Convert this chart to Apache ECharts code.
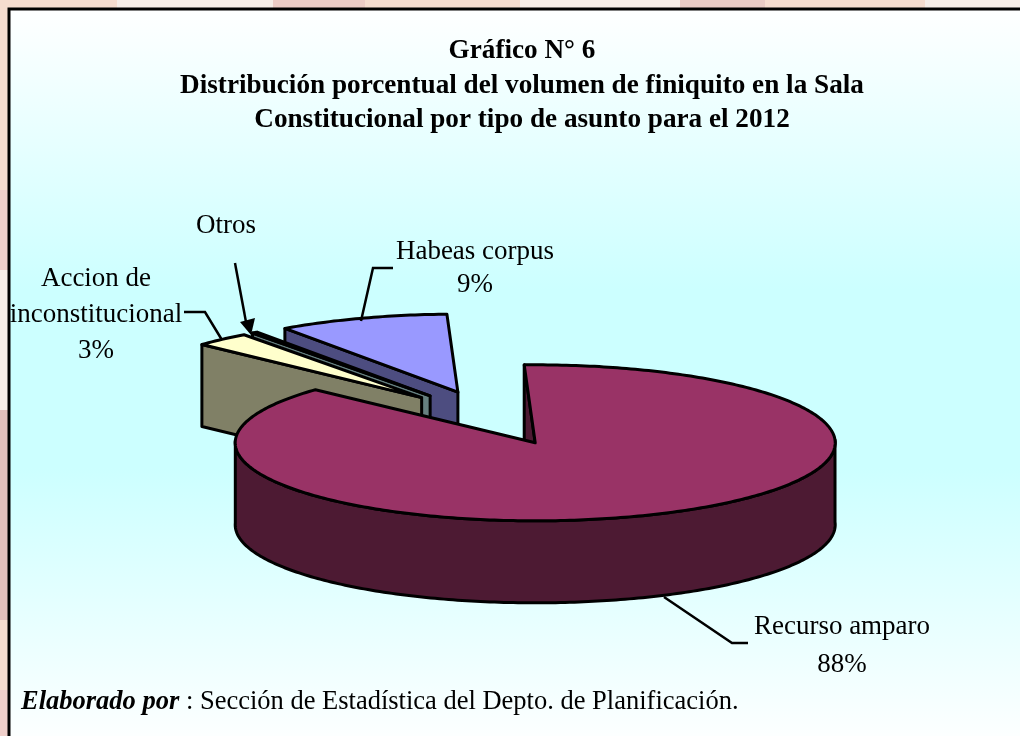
<!DOCTYPE html>
<html>
<head>
<meta charset="utf-8">
<title>Gráfico N° 6</title>
<script src="https://cdn.jsdelivr.net/npm/echarts@6/dist/echarts.min.js"></script>
<style>
  html, body { margin: 0; padding: 0; background: #fff; }
  #chart { width: 1020px; height: 736px; }
</style>
</head>
<body>
<div id="chart"></div>
<script>
var categories = ['Recurso amparo', 'Accion de\ninconstitucional', 'Otros', 'Habeas corpus'];
var values = [87.5, 3.0, 0.3, 9.2];
var valueLabels = ['88%', '3%', '', '9%'];
var titleLines = [
  'Gráfico N° 6',
  'Distribución porcentual del volumen de finiquito en la Sala',
  'Constitucional por tipo de asunto para el 2012'
];
var sourceBold = 'Elaborado por';
var sourceText = ' : Sección de Estadística del Depto. de Planificación.';

var topColors = ['#993366', '#ffffcc', '#ccffff', '#9999ff'];
var sideColors = ['#4d1a33', '#808066', '#668080', '#4d4d80'];
var drawOrder = [4, 3, 2, 1]; // atras hacia adelante

var FONT = '"Liberation Serif", "Times New Roman", serif';
var SQUASH = 78 / 300;
var DEPTH = 82;
var EXPLODE = 0.35;
var STEP = 0.25;

var total = values.reduce(function(a, b) { return a + b; }, 0);
var rows = [];
var acc = 0;
values.forEach(function(v, i) {
  rows.push([acc, acc + v, i]);
  acc += v;
});

// angulo -> punto en la elipse, usando la escala polar
function project(api, radius, angle, off) {
  var c = api.coord([0, 0]);
  var p = api.coord([radius, angle]);
  return [p[0] + off[0], c[1] + (p[1] - c[1]) * SQUASH + off[1]];
}

function renderSlice(params, api) {
  var start = api.value(0), end = api.value(1), i = api.value(2);
  var mid = (start + end) / 2;
  var off = [0, 0];
  var e = project(api, EXPLODE, mid, off);
  var c = project(api, 0, 0, off);
  off = [e[0] - c[0], e[1] - c[1]];

  var tip = project(api, 0, 0, off);
  var arc = [];
  for (var t = start; t < end; t += STEP) arc.push(project(api, 1, t, off));
  arc.push(project(api, 1, end, off));

  var down = function(p) { return [p[0], p[1] + DEPTH]; };
  var z = drawOrder[i];
  var children = [];

  function poly(points, fill, z2) {
    children.push({
      type: 'polygon',
      z2: z * 10 + z2,
      shape: { points: points },
      style: { fill: fill, stroke: '#000', lineWidth: 3, lineJoin: 'round' }
    });
  }

  // pared radial visible
  var edge = arc[0];
  poly([edge, tip, down(tip), down(edge)], sideColors[i], 1);

  // pared exterior, solo la mitad delantera del sector grande
  if (i === 0) {
    var front = arc.filter(function(p) { return p[1] >= tip[1] - 3; });
    poly(front.concat(front.map(down).reverse()), sideColors[i], 2);
  }

  // tapa
  poly([tip].concat(arc), topColors[i], 3);

  return { type: 'group', children: children };
}

function buildGraphics() {
  var g = [];
  function rect(x, y, w, h, fill) {
    g.push({ type: 'rect', silent: true, z: -10, shape: { x: x, y: y, width: w, height: h }, style: { fill: fill } });
  }
  // franja del fondo de la pagina
  rect(0, 0, 1020, 8, '#f5dccf');
  [[117, 156, '#f6ede8'], [273, 92, '#ecccc6'], [520, 160, '#f6ede8'], [680, 85, '#e9cbc5'], [925, 95, '#f6ede8']].forEach(function(s) {
    rect(s[0], 0, s[1], 8, s[2]);
  });
  [[0, 190, '#f5dccf'], [190, 80, '#efd0cb'], [270, 140, '#f6ede8'], [410, 210, '#e3c0bb'], [620, 70, '#f5dccf'], [690, 46, '#efcfca']].forEach(function(s) {
    rect(0, s[0], 8, s[1], s[2]);
  });
  // marco con degradado
  g.push({
    type: 'rect', silent: true, z: -9,
    shape: { x: 9, y: 9, width: 1020, height: 740 },
    style: {
      stroke: '#000', lineWidth: 3,
      fill: { type: 'linear', x: 0, y: 0, x2: 0, y2: 1, colorStops: [
        { offset: 0, color: '#ffffff' }, { offset: 0.38, color: '#ccffff' },
        { offset: 0.62, color: '#ccffff' }, { offset: 1, color: '#ffffff' }
      ] }
    }
  });

  function label(text, x, y, lh) {
    g.push({
      type: 'text', z: 20, x: x, y: y,
      style: { text: text, font: '27px ' + FONT, fill: '#000', align: 'center', verticalAlign: 'middle', lineHeight: lh || 35 }
    });
  }
  label(categories[0], 842, 627);
  label(valueLabels[0], 842, 665);
  label(categories[1] + '\n' + valueLabels[1], 96, 315, 36);
  label(categories[2], 226, 226);
  label(categories[3], 475, 252);
  label(valueLabels[3], 475, 285);

  function leader(points) {
    g.push({
      type: 'polyline', z: 5, silent: true,
      shape: { points: points },
      style: { stroke: '#000', lineWidth: 2.5, fill: null }
    });
  }
  leader([[393, 268], [373, 268], [361, 321]]);
  leader([[184, 312], [205, 312], [222, 340]]);
  leader([[664, 597], [732, 643], [748, 643]]);
  leader([[235, 263], [246, 322]]);
  g.push({
    type: 'polygon', z: 5, silent: true,
    shape: { points: [[251, 335], [240, 322], [255, 318]] },
    style: { fill: '#000' }
  });

  g.push({
    type: 'text', z: 20, x: 21, y: 702,
    style: {
      rich: { b: { font: 'italic bold 26.5px ' + FONT, fill: '#000' }, r: { font: '26.5px ' + FONT, fill: '#000' } },
      text: '{b|' + sourceBold + '}{r|' + sourceText + '}',
      verticalAlign: 'middle'
    }
  });
  return g;
}

var chart = echarts.init(document.getElementById('chart'), null, { renderer: 'canvas' });
chart.setOption({
  animation: false,
  backgroundColor: '#fff',
  title: {
    text: titleLines.join('\n'),
    left: 517,
    top: 29,
    textAlign: 'center',
    textStyle: { fontFamily: FONT, fontSize: 27.2, fontWeight: 'bold', color: '#000', lineHeight: 34.5 }
  },
  polar: { center: [491.5, 418], radius: 300 },
  angleAxis: { type: 'value', min: 0, max: total, startAngle: 92.1, clockwise: true, show: false },
  radiusAxis: { type: 'value', min: 0, max: 1, show: false },
  graphic: { elements: buildGraphics() },
  series: [{
    type: 'custom',
    coordinateSystem: 'polar',
    renderItem: renderSlice,
    encode: { radius: 2, angle: 0 },
    silent: true,
    data: rows
  }]
});
</script>
</body>
</html>
